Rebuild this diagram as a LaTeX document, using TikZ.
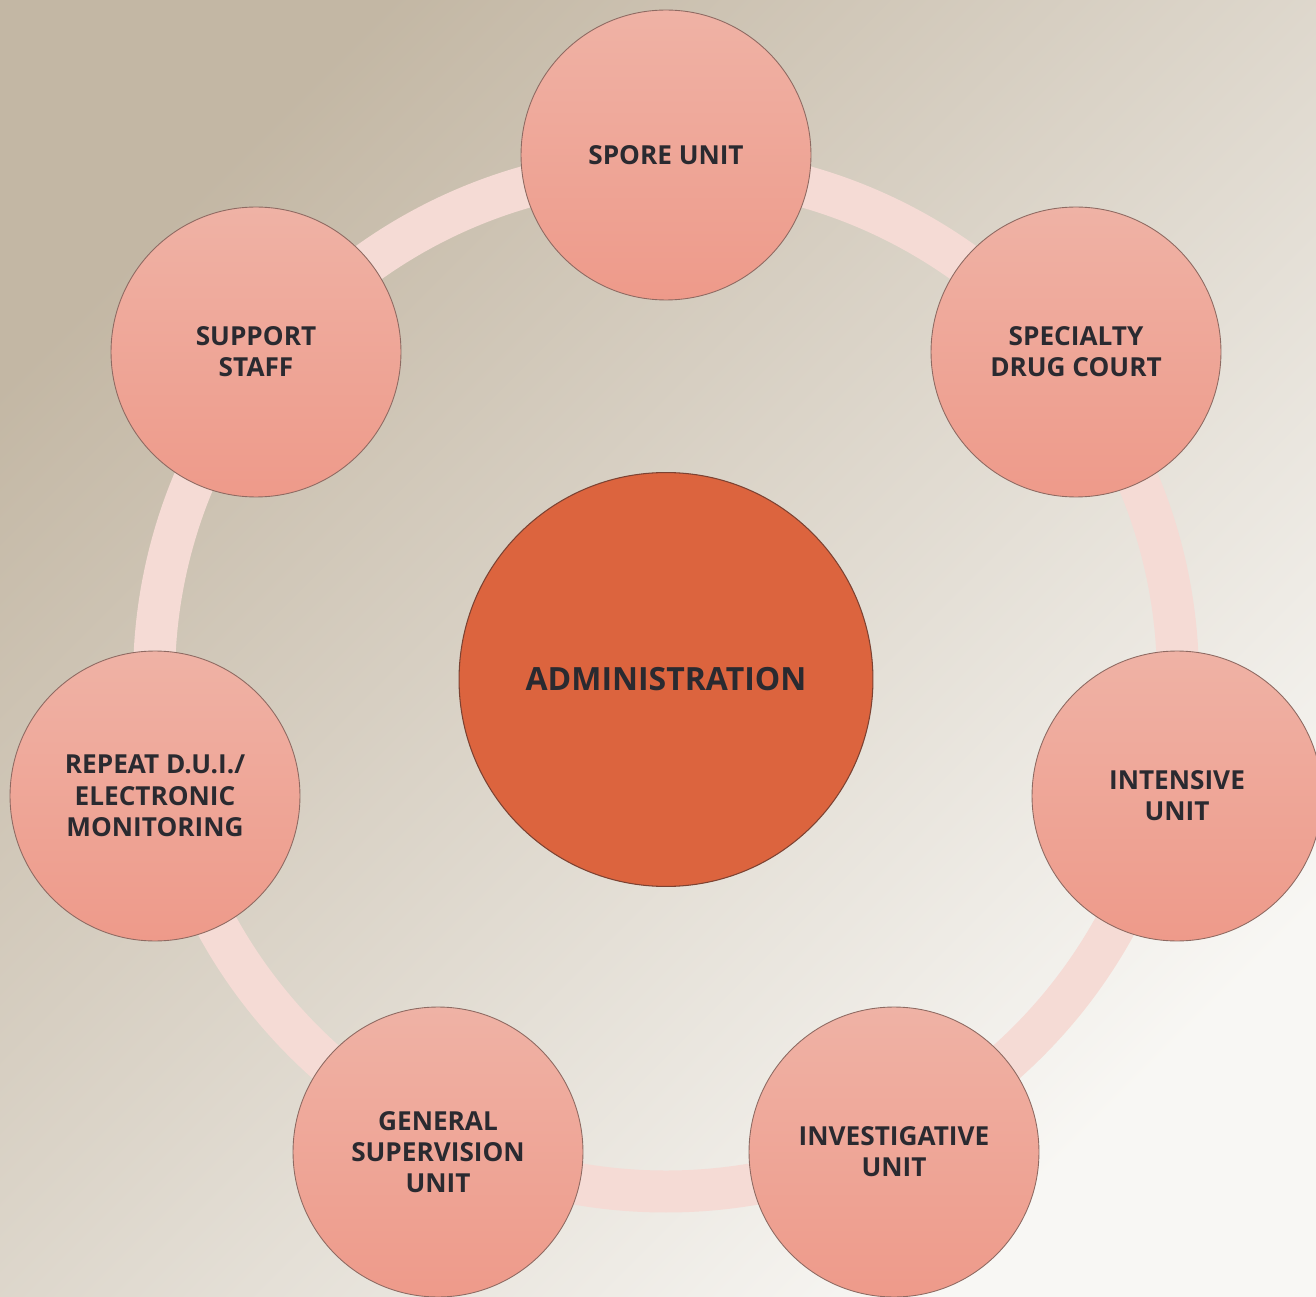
\documentclass[tikz,border=0pt]{standalone}
\usepackage{fontspec}
\setmainfont{Open Sans}
\usepackage{xcolor}
\usepackage{tikz}
\usetikzlibrary{positioning, shapes, backgrounds}

\definecolor{bgdark}{HTML}{C3B7A4}
\definecolor{bgmid}{HTML}{DDD6CB}
\definecolor{bglight}{HTML}{F8F7F4}
\definecolor{ringpink}{HTML}{F5DBD5}
\definecolor{unittop}{HTML}{EFB2A5}
\definecolor{unitbot}{HTML}{EE9A8A}
\definecolor{unitedge}{HTML}{8E6A62}
\definecolor{adminfill}{HTML}{DC643E}
\definecolor{adminedge}{HTML}{7C4232}
\definecolor{labelink}{HTML}{2A2A30}

\tikzset{
  unit/.style={circle, minimum size=5.8cm, inner sep=0pt,
    top color=unittop, bottom color=unitbot,
    draw=unitedge, line width=0.5pt, align=center,
    text=labelink, font=\fontsize{14.9}{17.8}\selectfont\bfseries},
  admin/.style={circle, minimum size=8.28cm, inner sep=0pt,
    fill=adminfill, draw=adminedge, line width=0.6pt,
    text=labelink, font=\fontsize{18.2}{22}\selectfont\bfseries}
}

\begin{document}
\begin{tikzpicture}[x=0.02cm, y=-0.02cm]
        \useasboundingbox (0, 0) rectangle (1316, 1297);
        % Background
        \shade[shading=axis, top color=bgdark, middle color=bgmid,
          bottom color=bglight, shading angle=45]
          (0, 0) rectangle (1316, 1297);
        % Ring behind the units
        \draw[ringpink, line width=0.84cm]
          (666, 679.5) circle[radius=512];
        % Centre
        \node[admin] (admin) at (666, 679.5) {ADMINISTRATION};
        % Units around the ring
        \node[unit] (spore) at (666, 155) {SPORE UNIT};
        \node[unit] (specialty) at (1076, 352)
          {SPECIALTY\\DRUG COURT};
        \node[unit] (intensive) at (1177, 796)
          {INTENSIVE\\UNIT};
        \node[unit] (investig) at (894, 1152)
          {INVESTIGATIVE\\UNIT};
        \node[unit] (general) at (438, 1152)
          {GENERAL\\SUPERVISION\\UNIT};
        \node[unit] (repeat) at (155, 796)
          {REPEAT D.U.I./\\ELECTRONIC\\MONITORING};
        \node[unit] (support) at (256, 352)
          {SUPPORT\\STAFF};
      \end{tikzpicture}
\end{document}
